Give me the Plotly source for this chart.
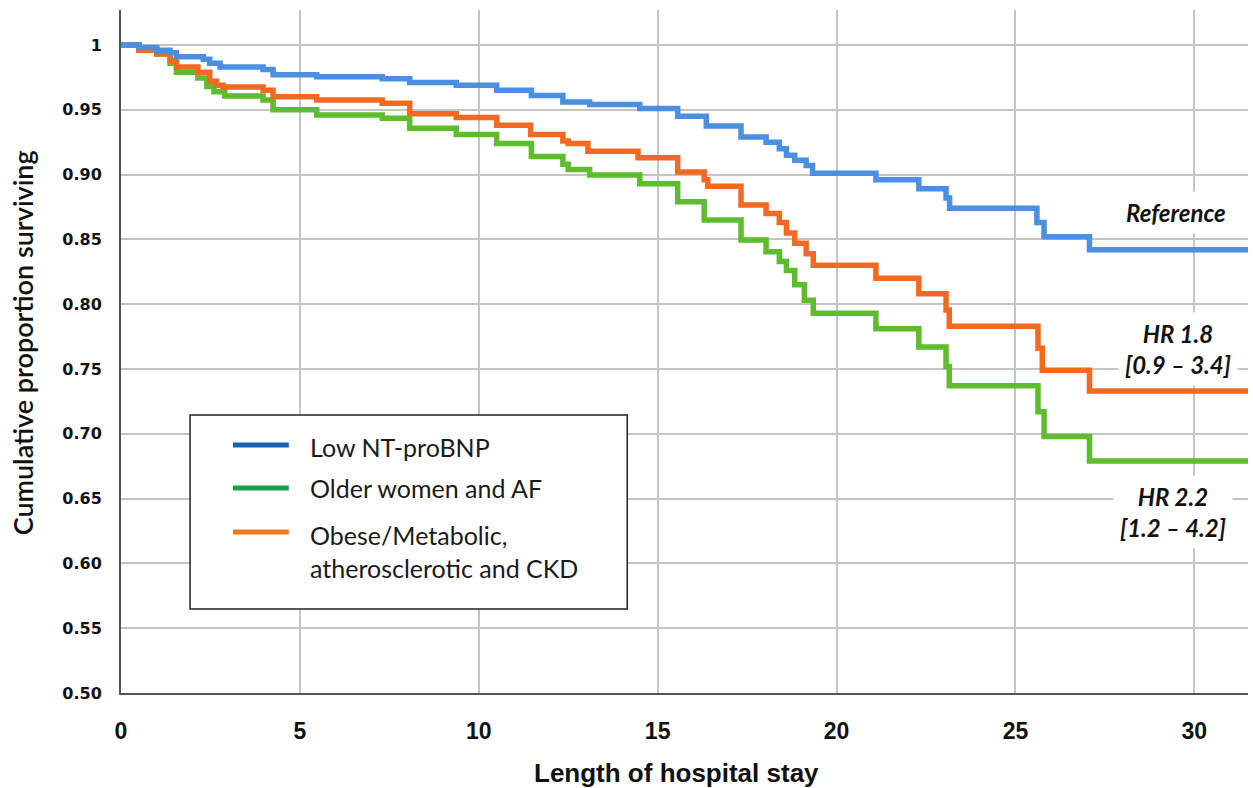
import plotly.graph_objects as go

# ---- data ----
blue_t = [0, 0.5, 1.0, 1.37, 1.55, 2.3, 2.48, 2.77, 3.97, 4.25,
          5.47, 7.3, 8.07, 9.37, 10.5, 11.47, 12.35, 13.1, 14.5, 15.56,
          16.36, 17.33, 18.03, 18.4, 18.6, 18.83, 19.15, 19.33, 21.1, 22.3,
          23.06, 23.16, 25.6, 25.8, 27.07, 31.5]
blue_v = [1.0, 0.998, 0.996, 0.994, 0.991, 0.989, 0.986, 0.983, 0.981, 0.977,
          0.9755, 0.974, 0.971, 0.969, 0.965, 0.961, 0.956, 0.954, 0.951, 0.945,
          0.9375, 0.929, 0.925, 0.920, 0.915, 0.911, 0.907, 0.901, 0.896, 0.889,
          0.882, 0.874, 0.863, 0.852, 0.842, 0.842]

orange_t = [0, 0.5, 1.0, 1.37, 1.55, 2.15, 2.48, 2.67, 2.85, 3.97,
            4.25, 5.47, 7.3, 8.07, 9.37, 10.5, 11.45, 12.35, 12.5, 13.05,
            14.45, 15.56, 16.3, 16.4, 17.33, 18.03, 18.4, 18.6, 18.83, 19.15,
            19.35, 21.1, 22.3, 23.06, 23.15, 25.63, 25.75, 27.07, 31.5]
orange_v = [1.0, 0.996, 0.993, 0.988, 0.983, 0.979, 0.972, 0.969, 0.9675, 0.965,
            0.960, 0.9576, 0.955, 0.947, 0.944, 0.938, 0.931, 0.926, 0.924, 0.918,
            0.913, 0.902, 0.896, 0.891, 0.8765, 0.870, 0.863, 0.855, 0.847, 0.839,
            0.830, 0.820, 0.808, 0.7955, 0.783, 0.766, 0.749, 0.733, 0.733]

green_t = [0, 0.5, 1.0, 1.37, 1.55, 2.15, 2.4, 2.6, 2.9, 3.97,
           4.25, 5.47, 7.3, 8.07, 9.37, 10.5, 11.47, 12.35, 12.5, 13.1,
           14.5, 15.56, 16.3, 17.33, 18.03, 18.4, 18.6, 18.83, 19.1, 19.35,
           21.1, 22.3, 23.06, 23.15, 25.63, 25.8, 27.07, 31.5]
green_v = [1.0, 0.996, 0.993, 0.986, 0.979, 0.9745, 0.968, 0.964, 0.9606, 0.9576,
           0.950, 0.946, 0.9435, 0.9357, 0.931, 0.924, 0.914, 0.908, 0.904, 0.8997,
           0.893, 0.879, 0.865, 0.8495, 0.8405, 0.833, 0.826, 0.815, 0.803, 0.793,
           0.781, 0.767, 0.752, 0.737, 0.717, 0.698, 0.679, 0.679]

series_names = ["Low NT-proBNP", "Older women and AF",
                "Obese/Metabolic,<br>atherosclerotic and CKD"]
x_ticks = [0, 5, 10, 15, 20, 25, 30]
y_ticks = [0.50, 0.55, 0.60, 0.65, 0.70, 0.75, 0.80, 0.85, 0.90, 0.95, 1.0]
y_tick_labels = ["0.50", "0.55", "0.60", "0.65", "0.70", "0.75", "0.80",
                 "0.85", "0.90", "0.95", "1"]
hr_labels = ["Reference", "HR 1.8<br>[0.9 – 3.4]", "HR 2.2<br>[1.2 – 4.2]"]

# ---- styles ----
c_blue, c_orange, c_green = "#4a8fe2", "#f26a21", "#5ebd2d"
leg_colors = ["#1c5fad", "#17a049", "#f07a1e"]
grid = "#c4c4c4"

fig = go.Figure()
for t, v, c in [(green_t, green_v, c_green), (orange_t, orange_v, c_orange),
                (blue_t, blue_v, c_blue)]:
    fig.add_trace(go.Scatter(x=t, y=v, mode="lines", line_shape="hv",
                             line=dict(color=c, width=5.5), showlegend=False,
                             hoverinfo="skip"))

# annotations for HR labels
lab_font = dict(family="Lato, 'Open Sans', sans-serif", size=24, color="#111")
for txt, xx, yy in [(hr_labels[0], 29.5, 0.8704), (hr_labels[1], 29.55, 0.7654),
                    (hr_labels[2], 29.41, 0.6397)]:
    fig.add_annotation(x=xx, y=yy, xref="x", yref="y", text="<b><i>" + txt + "</i></b>",
                       showarrow=False, font=lab_font, bgcolor="white",
                       borderpad=6, align="center")

# legend drawn as a box
fig.add_shape(type="rect", xref="x", yref="y", x0=1.93, x1=14.15, y0=0.5648, y1=0.7145,
              line=dict(color="#222", width=1.5), fillcolor="white", layer="above")
leg_y_line = [0.6914, 0.6582, 0.6242]
leg_y_text = [0.6898, 0.6582, 0.6092]
for i in range(3):
    fig.add_shape(type="line", xref="x", yref="y", x0=3.13, x1=4.69,
                  y0=leg_y_line[i], y1=leg_y_line[i],
                  line=dict(color=leg_colors[i], width=5), layer="above")
    fig.add_annotation(x=5.22, y=leg_y_text[i], xref="x", yref="y",
                       text=series_names[i], showarrow=False, xanchor="left",
                       align="left",
                       font=dict(family="Lato, 'Open Sans', sans-serif", size=25,
                                 color="#1a1a1a"))

# axis titles
fig.add_annotation(x=0.4925, y=-0.117, xref="paper", yref="paper",
                   xanchor="center", yanchor="middle",
                   text="<b>Length of hospital stay</b>", showarrow=False,
                   font=dict(family="'Liberation Sans Narrow', 'Liberation Sans', sans-serif",
                             size=26, color="#111"))
fig.add_annotation(x=-0.0878, y=0.512, xref="paper", yref="paper",
                   xanchor="center", yanchor="middle",
                   text="Cumulative proportion surviving", showarrow=False,
                   textangle=-90,
                   font=dict(family="Lato, 'Open Sans', sans-serif", size=27,
                             color="#111", weight=600))

fig.update_layout(
    width=1253, height=788,
    margin=dict(l=121, r=5, t=10, b=95),
    plot_bgcolor="white", paper_bgcolor="white",
    showlegend=False,
)
fig.update_xaxes(range=[0, 31.5], tickvals=x_ticks, showgrid=True, gridcolor=grid,
                 gridwidth=2, zeroline=False, showline=True, linecolor="#555",
                 linewidth=2, ticks="", ticklabelstandoff=16,
                 tickfont=dict(family="'Liberation Sans Narrow', 'Liberation Sans', sans-serif",
                               size=23, color="#111", weight="bold"))
fig.update_yaxes(range=[0.5, 1.027], tickvals=y_ticks, ticktext=y_tick_labels,
                 showgrid=True, gridcolor=grid, gridwidth=2, zeroline=False,
                 showline=True, linecolor="#555", linewidth=2, ticks="",
                 ticklabelstandoff=14,
                 tickfont=dict(family="'DejaVu Sans', sans-serif", size=16,
                               color="#111", weight="bold"))

fig.write_html("out.html", config={"displayModeBar": False},
               post_script="document.body.style.margin='0';")
